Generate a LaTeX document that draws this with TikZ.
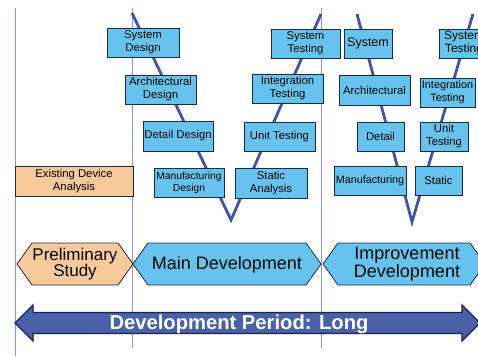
\documentclass[tikz,border=0pt]{standalone}
\usepackage{fontspec}
\setmainfont{Liberation Sans}
\begin{document}
\definecolor{boxblue}{HTML}{66C3EE}
\definecolor{boxedge}{HTML}{1C2A48}
\definecolor{peach}{HTML}{F8C99A}
\definecolor{vline}{HTML}{3F55A4}
\definecolor{guide}{HTML}{8896C8}
\definecolor{barfill}{HTML}{4A61A8}
\definecolor{baredge}{HTML}{18234E}
\begin{tikzpicture}[x=1pt,y=-1pt,
  stage/.style={draw=boxedge,line width=0.9pt,fill=boxblue,inner sep=0pt,
    align=center,font=\fontsize{11.3}{13}\selectfont},
  prestage/.style={stage,fill=peach},
  vpath/.style={draw=vline,line width=2.8pt},
  guideline/.style={draw=guide,line width=0.8pt},
  hexa/.style={draw=boxedge,line width=0.8pt},
  phase/.style={align=center,inner sep=0pt,font=\fontsize{17}{16}\selectfont}]
\useasboundingbox (0,0) rectangle (478,356);
\clip (0,0) rectangle (478,356);

% phase separators
\coordinate (g1t) at (15,8);   \coordinate (g1b) at (15,356);
\coordinate (g2t) at (132,8);  \coordinate (g2b) at (132,348);
\coordinate (g3t) at (321,8);  \coordinate (g3b) at (321,348);
\draw[guideline] (g1t) -- (g1b);
\draw[guideline] (g2t) -- (g2b);
\draw[guideline] (g3t) -- (g3b);

% V-model paths
\coordinate (va) at (132,13);  \coordinate (vb) at (231,220);  \coordinate (vc) at (321,14);
\coordinate (wa) at (357,14);  \coordinate (wb) at (412,222);  \coordinate (wc) at (473,14);
\draw[vpath] (va) -- (vb) -- (vc);
\draw[vpath] (wa) -- (wb) -- (wc);

% preliminary study
\node[prestage,minimum width=118pt,minimum height=30pt] (exist) at (74,181) {Existing Device\\Analysis};

% main development V
\node[stage,minimum width=72pt,minimum height=29pt] (sysd) at (143,42.5) {System\\Design};
\node[stage,minimum width=71pt,minimum height=29pt] (arch) at (160.5,89.5) {Architectural\\Design};
\node[stage,minimum width=70pt,minimum height=30pt] (detd) at (178,136) {Detail Design};
\node[stage,minimum width=70pt,minimum height=29pt,font=\fontsize{10.3}{12}\selectfont] (mand) at (189,182.5) {Manufacturing\\Design};
\node[stage,minimum width=69pt,minimum height=29pt] (syst) at (305.5,43.5) {System\\Testing};
\node[stage,minimum width=71pt,minimum height=29pt] (intt) at (287.5,88.5) {Integration\\Testing};
\node[stage,minimum width=71pt,minimum height=29pt] (unitt) at (279.5,136.5) {Unit Testing};
\node[stage,minimum width=72pt,minimum height=30pt] (stata) at (271,183) {Static\\Analysis};

% improvement V
\node[stage,minimum width=48pt,minimum height=29pt,font=\fontsize{12.5}{14}\selectfont] (sys2) at (368,43.5) {System};
\node[stage,minimum width=71pt,minimum height=30pt] (arch2) at (374.5,90) {Architectural};
\node[stage,minimum width=47pt,minimum height=29pt] (det2) at (380.5,136.5) {Detail};
\node[stage,minimum width=72pt,minimum height=29pt,font=\fontsize{10.8}{13}\selectfont] (man2) at (370,180.5) {Manufacturing};
\node[stage,minimum width=50pt,minimum height=29pt,font=\fontsize{12}{13}\selectfont] (syst2) at (464,43.5) {System\\Testing};
\node[stage,minimum width=55pt,minimum height=29pt,font=\fontsize{10.8}{13}\selectfont] (intt2) at (447.5,92.5) {Integration\\Testing};
\node[stage,minimum width=48pt,minimum height=29pt] (unit2) at (444,136.5) {Unit\\Testing};
\node[stage,minimum width=47pt,minimum height=29pt] (stat2) at (438.5,180.5) {Static};

% phase hexagons
\draw[hexa,fill=peach] (17,264) -- (32,243) -- (118,243) -- (133,264) -- (118,285) -- (32,285) -- cycle;
\draw[hexa,fill=boxblue] (133,264) -- (148,243) -- (306,243) -- (321,264) -- (306,285) -- (148,285) -- cycle;
\draw[hexa,fill=boxblue] (323,264) -- (338,243) -- (470,243) -- (485,264) -- (470,285) -- (338,285) -- cycle;
\node[phase] (prelim) at (75,264.5) {Preliminary\\Study};
\node[phase,font=\fontsize{18}{17}\selectfont] (maindev) at (227,264.5) {Main Development};
\node[phase,font=\fontsize{18}{16}\selectfont] (impdev) at (407,264.5) {Improvement\\Development};

% development period bar
\draw[draw=baredge,line width=1.2pt,fill=barfill,line join=miter]
  (15,323) -- (33,305) -- (33,312.5) -- (462,312.5) -- (462,305) -- (480,323)
  -- (462,341) -- (462,333.5) -- (33,333.5) -- (33,341) -- cycle;
\node[text=white,inner sep=0pt,font=\fontsize{20.2}{21}\selectfont\bfseries] (period) at (239,324) {Development Period: Long};
\end{tikzpicture}
\end{document}
